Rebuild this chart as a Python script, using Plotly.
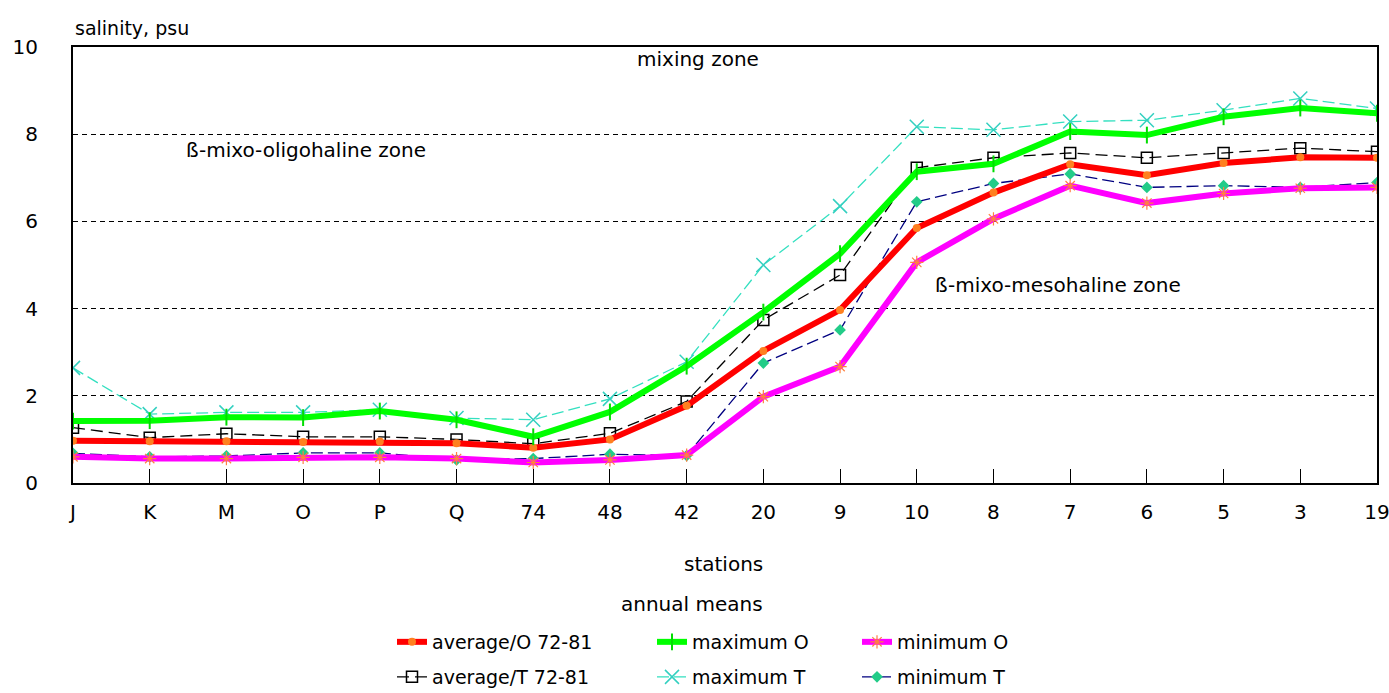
import plotly.graph_objects as go

stations = ["J", "K", "M", "O", "P", "Q", "74", "48", "42", "20", "9", "10", "8", "7", "6", "5", "3", "19"]

avg_O = [0.97, 0.96, 0.96, 0.94, 0.95, 0.91, 0.81, 1.00, 1.77, 3.03, 3.97, 5.85, 6.66, 7.31, 7.06, 7.34, 7.47, 7.46]
max_O = [1.42, 1.43, 1.51, 1.50, 1.65, 1.45, 1.06, 1.63, 2.68, 3.92, 5.26, 7.14, 7.32, 8.06, 7.98, 8.40, 8.60, 8.48]
min_O = [0.60, 0.56, 0.56, 0.59, 0.59, 0.56, 0.47, 0.53, 0.64, 1.98, 2.67, 5.06, 6.06, 6.82, 6.42, 6.64, 6.76, 6.78]
avg_T = [1.27, 1.04, 1.13, 1.06, 1.06, 1.00, 0.90, 1.14, 1.87, 3.74, 4.77, 7.23, 7.46, 7.57, 7.46, 7.57, 7.68, 7.60]
max_T = [2.64, 1.58, 1.62, 1.62, 1.68, 1.49, 1.45, 1.93, 2.78, 5.00, 6.35, 8.17, 8.10, 8.29, 8.32, 8.55, 8.82, 8.59]
min_T = [0.68, 0.60, 0.62, 0.69, 0.69, 0.53, 0.56, 0.66, 0.63, 2.75, 3.51, 6.45, 6.87, 7.09, 6.78, 6.82, 6.78, 6.89]

y_ticks = [0, 2, 4, 6, 8, 10]

FONT = "DejaVu Sans"
FS = 20
LFS = 19

# plot area in pixels
L, R, T, B = 73, 1377, 47, 483
PW, PH = R - L, B - T


def px(xp):
    return (xp - L) / PW


def py(yp):
    return (B - yp) / PH


fig = go.Figure()

# T series (thin, dashed) drawn first
fig.add_trace(go.Scatter(
    x=stations, y=avg_T, name="average/T 72-81", mode="lines+markers",
    line=dict(color="black", width=1.3, dash="12px,6px"),
    marker=dict(symbol="square-open", size=11, color="black", line=dict(width=1.5)),
    legend="legend4"))
fig.add_trace(go.Scatter(
    x=stations, y=max_T, name="maximum T", mode="lines+markers",
    line=dict(color="#33e0c0", width=1.3, dash="12px,5px"),
    marker=dict(symbol="x-thin-open", size=14, color="#33d0c0", line=dict(width=1.5, color="#33d0c0")),
    legend="legend5"))
fig.add_trace(go.Scatter(
    x=stations, y=min_T, name="minimum T", mode="lines+markers",
    line=dict(color="#000080", width=1.3, dash="12px,5px"),
    marker=dict(symbol="diamond", size=9, color="#22cc88"),
    legend="legend6"))

# O series (thick)
fig.add_trace(go.Scatter(
    x=stations, y=avg_O, name="average/O 72-81", mode="lines+markers",
    line=dict(color="#ff0000", width=6),
    marker=dict(symbol="circle", size=8, color="#ff8020"),
    legend="legend"))
fig.add_trace(go.Scatter(
    x=stations, y=max_O, name="maximum O", mode="lines+markers",
    line=dict(color="#00ff00", width=6),
    marker=dict(symbol="line-ns-open", size=12, color="#00dd00", line=dict(width=2, color="#00cc00")),
    legend="legend2"))
fig.add_trace(go.Scatter(
    x=stations, y=min_O, name="minimum O", mode="lines+markers",
    line=dict(color="#ff00ff", width=6),
    marker=dict(symbol="asterisk-open", size=11, color="#ff8040", line=dict(width=1.2, color="#ff7030")),
    legend="legend3"))


def leg(xp, yp):
    return dict(orientation="v", x=px(xp), xanchor="left", y=py(yp), yanchor="middle",
                font=dict(family=FONT, size=LFS), bgcolor="rgba(0,0,0,0)",
                itemwidth=30, borderwidth=0)


fig.update_layout(
    width=1389, height=693,
    margin=dict(l=L, r=1389 - R, t=T, b=693 - B, autoexpand=False),
    paper_bgcolor="white", plot_bgcolor="white",
    font=dict(family=FONT, size=FS, color="black"),
    xaxis=dict(
        type="category", range=[0, len(stations) - 1],
        showline=True, linecolor="black", linewidth=2, mirror=True,
        showgrid=False, zeroline=False,
        ticks="inside", ticklen=14, tickcolor="black", tickwidth=1.2,
        ticklabelstandoff=10,
        tickfont=dict(family=FONT, size=FS),
    ),
    yaxis=dict(
        range=[0, 10], tickvals=y_ticks,
        showline=True, linecolor="black", linewidth=2, mirror=True,
        showgrid=True, gridcolor="black", gridwidth=1, griddash="5px,4px",
        zeroline=False, ticks="", ticklabelstandoff=29,
        tickfont=dict(family=FONT, size=FS),
    ),
    legend=leg(392, 642),
    legend2=leg(652, 642),
    legend3=leg(857, 642),
    legend4=leg(392, 677),
    legend5=leg(652, 677),
    legend6=leg(857, 677),
    showlegend=True,
)

fig.add_annotation(text="salinity, psu", xref="paper", yref="paper", x=0, y=py(28),
                   xanchor="left", yanchor="middle", showarrow=False, font=dict(size=FS - 1))
fig.add_annotation(text="stations", xref="paper", yref="paper", x=px(723), y=py(564),
                   xanchor="center", yanchor="middle", showarrow=False)
fig.add_annotation(text="annual means", xref="paper", yref="paper", x=px(692), y=py(604),
                   xanchor="center", yanchor="middle", showarrow=False)

fig.add_annotation(text="mixing zone", xref="x", yref="y", x=8.15, y=9.72,
                   xanchor="center", yanchor="middle", showarrow=False)
fig.add_annotation(text="ß-mixo-oligohaline zone", xref="x", yref="y", x=3.04, y=7.64,
                   xanchor="center", yanchor="middle", showarrow=False)
fig.add_annotation(text="ß-mixo-mesohaline zone", xref="x", yref="y", x=12.84, y=4.54,
                   xanchor="center", yanchor="middle", showarrow=False)

fig.write_html("out.html")
